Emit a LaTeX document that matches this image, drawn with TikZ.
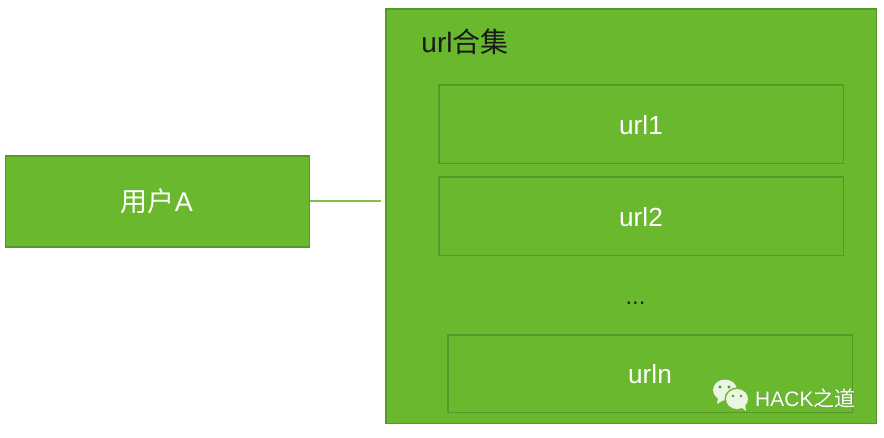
\documentclass[tikz,border=0pt]{standalone}
\usepackage{fontspec}
\setmainfont{Liberation Sans}
\newfontfamily\cjk{Noto Sans CJK SC}
\definecolor{gfill}{HTML}{69B82E}
\definecolor{gline}{HTML}{559A27}
\definecolor{glink}{HTML}{7CC24E}
\definecolor{iconw}{HTML}{EAF5E3}
\tikzset{
  x=1pt,y=-1pt,
  gbox/.style={draw=gline,line width=1.15pt,fill=gfill,inner sep=0pt,outer sep=0pt},
  lbl/.style={font=\fontsize{26.2}{29}\selectfont,text=white,inner sep=0pt},
  blk/.style={font=\fontsize{28}{31}\selectfont,text=black!90,inner sep=0pt},
  wm/.style={font=\fontsize{21}{24}\selectfont,text=white,inner sep=0pt,anchor=west},
}
\begin{document}
\begin{tikzpicture}
\useasboundingbox (0,0) rectangle (884,437);
\node[gbox,minimum width=304pt,minimum height=91pt] (user) at (157.5,201.5) {};
\node[lbl,font=\fontsize{27}{30}\selectfont] (userlbl) at (157,201) {{\cjk 用户}A};
\coordinate (linkend) at (381,200.9);
\draw[glink,line width=1.5pt] (user.east |- linkend) -- (linkend);
\node[gbox,minimum width=490.5pt,minimum height=414.5pt] (set) at (631.25,216.25) {};
\node[blk] (settitle) at (465,42) {url{\cjk 合集}};
\node[gbox,minimum width=404.5pt,minimum height=78.5pt] (u1) at (641.25,124.25) {};
\node[lbl] at (641,125) (u1t) {url1};
\node[gbox,minimum width=404.5pt,minimum height=78.5pt] (u2) at (641.25,216.25) {};
\node[lbl] at (641,217) (u2t) {url2};
\node[lbl,text=black!85,font=\fontsize{24}{26}\selectfont] (dots) at (635.5,303) {...};
\node[gbox,minimum width=404.5pt,minimum height=77.5pt] (un) at (650.25,373.75) {};
\node[lbl] at (650,374) (unt) {urln};
% watermark
\fill[iconw] (725,390) ellipse [x radius=12,y radius=10.5];
\fill[iconw] (718,398) -- (717,404) -- (724,400) -- cycle;
\fill[gfill] (737,399) ellipse [x radius=12.5,y radius=11.5];
\fill[iconw] (737,399) ellipse [x radius=11,y radius=10];
\fill[iconw] (741,407) -- (746,411) -- (745,404) -- cycle;
\fill[gfill!80!black] (720,387) circle (1.6) (729,387) circle (1.6) (733,396) circle (1.4) (741,396) circle (1.4);
\node[wm,text=black!55,opacity=.5] at (755.7,398.7) {HACK{\cjk 之道}};
\node[wm] (wmark) at (755,398) {HACK{\cjk 之道}};
\end{tikzpicture}
\end{document}
